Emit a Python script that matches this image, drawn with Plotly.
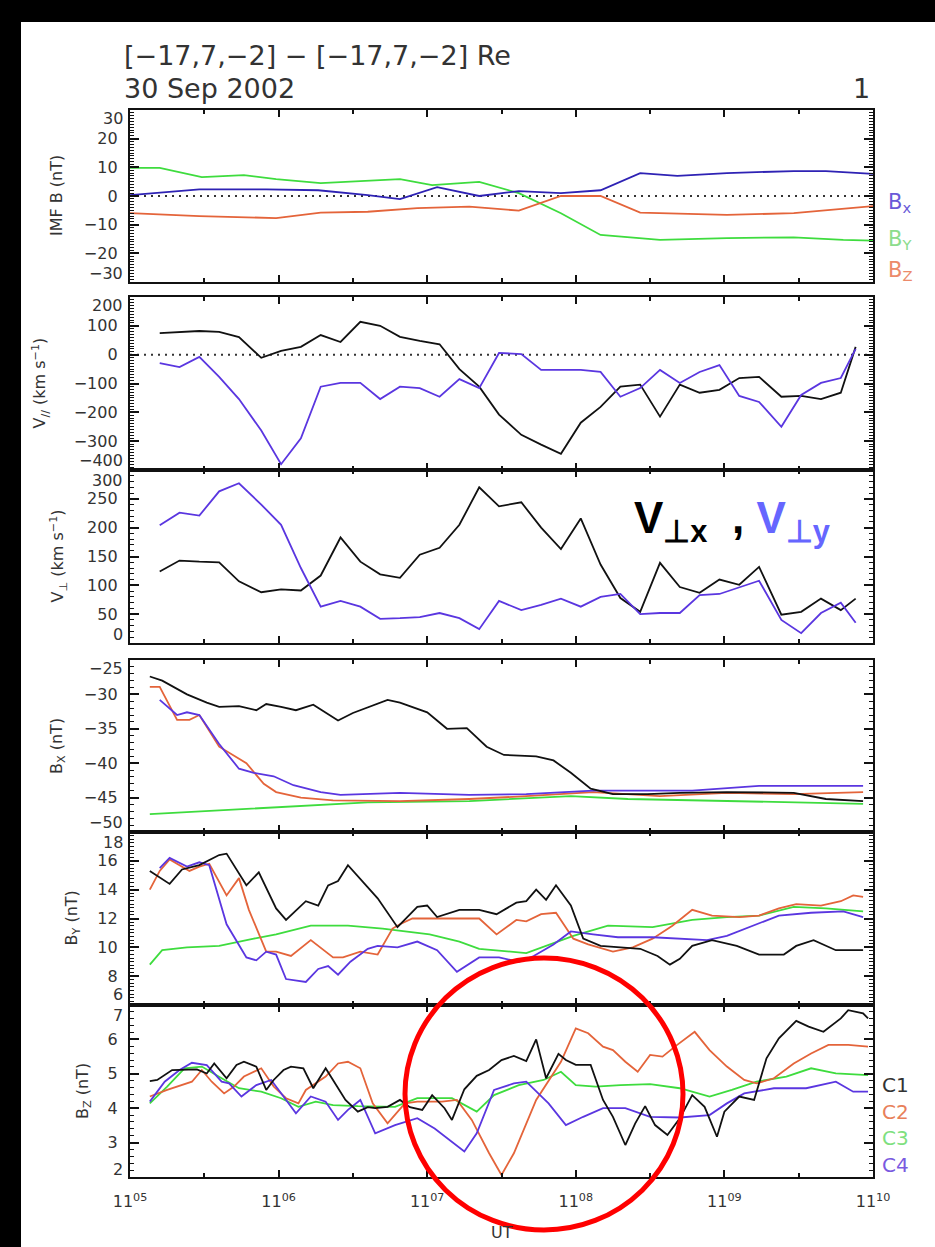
import plotly.graph_objects as go

W, H = 935, 1247

# ---------------- data (time in seconds after 11:05:00 UT) ----------------
# Panel 1: IMF B (nT)
t_imf_bx = [0, 28, 55, 76, 96, 109, 124, 137, 141, 157, 174, 190, 206, 221, 241, 268, 281, 300]
imf_bx = [0.3, 2.3, 2.3, 2.0, 0.3, -1.1, 3.1, 0.8, 0.0, 1.7, 1.0, 2.0, 8.0, 7.0, 8.0, 8.7, 8.7, 7.7]
t_imf_by = [0, 12, 29, 46, 59, 77, 93, 109, 122, 137, 141, 157, 174, 190, 214, 241, 268, 288, 300]
imf_by = [9.8, 9.8, 6.6, 7.3, 5.9, 4.5, 5.2, 5.9, 3.8, 4.5, 4.9, 1.0, -6.0, -13.6, -15.3, -14.7, -14.4, -15.3, -15.6]
t_imf_bz = [0, 28, 59, 77, 96, 116, 137, 157, 174, 190, 206, 241, 268, 300]
imf_bz = [-6.0, -7.0, -7.7, -5.8, -5.5, -4.2, -3.7, -5.1, 0.0, 0.0, -5.8, -6.6, -6.0, -3.5]

# Panels 2-3: ion velocities (km/s), spin resolution
t_cis = [12, 20, 28, 36, 44, 53, 61, 69, 77, 85, 93, 101, 109, 117, 125, 133, 141, 149,
         158, 166, 174, 182, 190, 198, 206, 214, 222, 230, 238, 246, 254, 263, 271, 279, 287, 293]
vpar_a = [75, 79, 82, 79, 61, -11, 13, 27, 68, 44, 114, 100, 62, 48, 36, -50, -111, -208,
          -278, -312, -344, -236, -181, -111, -104, -215, -104, -132, -122, -81, -77, -146, -143, -154, -132, 27]
vpar_b = [-29, -43, -8, -77, -154, -263, -380, -290, -111, -98, -98, -154, -111, -116, -146, -85, -116, 6,
          2, -53, -53, -53, -60, -146, -116, -53, -98, -60, -36, -143, -164, -250, -140, -98, -81, 20]
vperp_x = [124, 143, 141, 140, 107, 88, 93, 91, 117, 183, 141, 119, 113, 153, 165, 205, 270, 237,
           244, 200, 163, 216, 136, 78, 54, 139, 97, 87, 110, 101, 132, 49, 54, 77, 57, 77]
vperp_y = [204, 226, 221, 263, 277, 240, 205, 130, 63, 73, 63, 42, 43, 45, 52, 43, 24, 73,
           57, 66, 77, 63, 80, 85, 50, 52, 52, 83, 85, 97, 108, 40, 17, 52, 70, 35]

# Panel 4: Bx (nT), C1..C4
t_bx_c1 = [8, 13, 23, 31, 36, 44, 51, 55, 61, 67, 74, 84, 90, 104, 109, 120, 128, 133, 136, 144,
           151, 164, 171, 178, 186, 195, 209, 222, 241, 268, 281, 296]
bx_c1 = [-27.4, -28.0, -30.0, -31.2, -31.8, -31.7, -32.3, -31.4, -31.8, -32.3, -31.5, -33.8, -32.7,
         -30.8, -31.2, -32.6, -35.0, -35.0, -34.9, -37.6, -38.8, -39.0, -39.6, -41.4, -43.7, -44.5,
         -44.5, -44.3, -44.2, -44.3, -45.2, -45.5]
t_bx_c2 = [8, 12, 19, 24, 28, 36, 47, 54, 59, 69, 82, 109, 137, 160, 187, 214, 241, 268, 296]
bx_c2 = [-28.9, -28.9, -33.7, -33.7, -33.0, -37.6, -40.0, -43.0, -44.2, -45.0, -45.4, -45.5, -45.2,
         -44.8, -44.2, -44.8, -44.3, -44.5, -44.2]
t_bx_c3 = [8, 55, 96, 137, 178, 201, 241, 296]
bx_c3 = [-47.4, -46.5, -45.7, -45.5, -44.8, -45.2, -45.5, -45.9]
t_bx_c4 = [12, 19, 23, 28, 36, 44, 50, 58, 66, 77, 85, 109, 137, 160, 187, 227, 254, 281, 296]
bx_c4 = [-30.8, -33.0, -32.6, -33.0, -37.2, -40.8, -41.4, -41.9, -43.2, -44.2, -44.6, -44.3, -44.6,
         -44.5, -44.0, -44.0, -43.3, -43.3, -43.3]

# Panel 5: By (nT)
t_by_c1 = [8, 16, 21, 28, 36, 39, 47, 52, 59, 63, 71, 76, 80, 84, 88, 100, 108, 116, 120, 124, 133,
           141, 148, 156, 160, 164, 168, 172, 178, 183, 190, 198, 206, 213, 218, 222, 227, 235, 245,
           254, 264, 269, 276, 285, 296]
by_c1 = [15.3, 14.4, 15.4, 15.7, 16.4, 16.5, 14.3, 15.2, 12.7, 11.9, 13.2, 12.9, 14.3, 14.6, 15.7,
         13.4, 11.4, 12.8, 12.9, 12.1, 12.6, 12.6, 12.3, 13.1, 13.2, 14.0, 13.3, 14.3, 12.9, 10.6,
         10.1, 10.0, 9.9, 9.4, 8.8, 9.2, 10.1, 10.5, 10.1, 9.5, 9.5, 10.1, 10.5, 9.8, 9.8]
t_by_c2 = [8, 12, 16, 20, 24, 28, 32, 39, 44, 48, 55, 59, 65, 73, 82, 86, 93, 100, 106, 109, 114,
           137, 141, 148, 156, 160, 166, 172, 179, 185, 195, 203, 211, 219, 227, 235, 246, 254, 262,
           269, 279, 287, 292, 296]
by_c2 = [14.0, 15.3, 16.1, 15.7, 15.3, 15.6, 15.8, 13.6, 14.8, 12.6, 9.7, 9.7, 9.4, 10.5, 9.3, 9.3,
         9.7, 9.5, 11.3, 11.6, 12.0, 12.0, 12.0, 10.9, 11.9, 11.8, 12.3, 12.4, 10.6, 10.2, 9.7, 10.0,
         10.6, 11.5, 12.6, 12.2, 12.1, 12.2, 12.7, 13.0, 12.9, 13.2, 13.6, 13.5]
t_by_c3 = [8, 13, 23, 36, 50, 59, 73, 88, 102, 121, 133, 141, 160, 179, 193, 211, 227, 241, 254, 268, 281, 296]
by_c3 = [8.8, 9.8, 10.0, 10.1, 10.6, 10.9, 11.5, 11.5, 11.3, 10.9, 10.4, 9.9, 9.6, 10.8, 11.5, 11.4,
         11.9, 12.1, 12.2, 12.8, 12.7, 12.5]
t_by_c4 = [12, 16, 23, 28, 32, 39, 47, 51, 55, 59, 63, 71, 76, 80, 84, 89, 96, 100, 108, 116, 124,
           132, 141, 149, 157, 163, 171, 178, 187, 197, 211, 221, 233, 241, 250, 262, 275, 288, 296]
by_c4 = [15.5, 16.2, 15.6, 15.9, 15.7, 11.6, 9.3, 9.1, 9.7, 9.5, 7.8, 7.6, 8.5, 8.7, 8.1, 9.0, 9.9,
         10.1, 10.0, 10.4, 9.8, 8.3, 9.3, 9.3, 9.0, 9.4, 10.2, 11.1, 10.9, 10.7, 10.7, 10.6, 10.5,
         10.8, 11.4, 12.2, 12.4, 12.5, 12.1]

# Panel 6: Bz (nT)
t_bz_c1 = [8, 11, 17, 27, 31, 34, 39, 43, 46, 51, 55, 58, 62, 65, 70, 74, 79, 81, 87, 92, 96, 99,
           104, 109, 113, 118, 122, 127, 130, 135, 140, 145, 150, 155, 160, 164, 168, 173, 176, 180,
           186, 191, 195, 200, 204, 208, 212, 217, 222, 227, 232, 237, 240, 246, 252, 257, 262, 269,
           274, 280, 287, 290, 296, 298]
bz_c1 = [4.79, 4.82, 5.11, 5.13, 5.01, 5.30, 4.87, 5.26, 5.35, 5.21, 4.53, 4.82, 5.11, 5.21, 5.16,
         4.58, 5.16, 4.92, 4.24, 3.90, 4.03, 4.00, 4.04, 4.24, 4.03, 3.95, 4.38, 4.00, 3.66, 4.55,
         4.94, 5.11, 5.40, 5.52, 5.37, 6.00, 4.87, 5.58, 5.40, 5.26, 5.26, 4.24, 3.75, 2.93, 3.56,
         4.06, 3.51, 3.22, 3.71, 4.38, 4.04, 3.17, 3.90, 4.34, 4.24, 5.45, 6.03, 6.54, 6.37, 6.22,
         6.61, 6.85, 6.76, 6.61]
t_bz_c2 = [8, 15, 25, 29, 33, 38, 42, 46, 53, 58, 63, 68, 71, 79, 84, 88, 93, 98, 104, 111, 116,
           126, 132, 138, 145, 150, 155, 164, 174, 180, 185, 191, 195, 200, 205, 210, 215, 220, 228,
           234, 241, 248, 253, 260, 268, 275, 282, 290, 298]
bz_c2 = [4.34, 4.53, 4.77, 5.11, 4.77, 4.43, 4.63, 4.92, 5.16, 4.63, 4.29, 4.14, 4.53, 4.92, 5.30,
         5.35, 5.16, 4.14, 3.56, 4.14, 4.19, 4.19, 4.24, 3.66, 2.69, 2.06, 2.69, 4.24, 5.35, 6.32,
         6.18, 5.79, 5.69, 5.35, 5.06, 5.55, 5.50, 5.79, 6.22, 5.69, 5.21, 4.82, 4.72, 4.87, 5.30,
         5.59, 5.84, 5.84, 5.79]
t_bz_c3 = [8, 15, 22, 29, 37, 44, 53, 61, 68, 75, 82, 92, 107, 116, 130, 140, 147, 157, 167, 174,
           180, 188, 198, 210, 222, 234, 243, 253, 265, 275, 285, 298]
bz_c3 = [4.14, 4.63, 5.16, 5.21, 4.87, 4.58, 4.48, 4.29, 4.04, 4.19, 4.09, 4.06, 4.04, 4.29, 4.29,
         3.90, 4.38, 4.67, 4.82, 5.06, 4.67, 4.63, 4.67, 4.70, 4.58, 4.34, 4.53, 4.77, 4.92, 5.16,
         5.01, 4.96]
t_bz_c4 = [8, 14, 20, 25, 31, 37, 40, 45, 51, 57, 62, 67, 73, 79, 84, 88, 93, 99, 107, 116, 123,
           135, 140, 147, 155, 160, 169, 176, 183, 191, 200, 210, 222, 234, 241, 248, 260, 273, 285,
           292, 298]
bz_c4 = [4.19, 4.77, 5.11, 5.32, 5.25, 4.77, 4.72, 4.34, 4.67, 4.82, 4.34, 3.85, 4.34, 4.19, 3.66,
         3.95, 4.24, 3.27, 3.51, 3.71, 3.41, 2.74, 3.27, 4.53, 4.72, 4.77, 4.14, 3.51, 3.75, 4.00,
         4.00, 3.75, 3.73, 3.80, 4.14, 4.43, 4.58, 4.58, 4.77, 4.48, 4.48]

# x axis: 11:05 .. 11:10 UT
x_tickvals = [0, 60, 120, 180, 240, 300]
x_ticktext = ["11<sup>05</sup>", "11<sup>06</sup>", "11<sup>07</sup>",
              "11<sup>08</sup>", "11<sup>09</sup>", "11<sup>10</sup>"]
x_minor = [30, 90, 150, 210, 270]

# y ticks per panel
yt_imf = [-30, -20, -10, 0, 10, 20, 30]
yt_vpar = [-400, -300, -200, -100, 0, 100, 200]
yt_vperp = [0, 50, 100, 150, 200, 250, 300]
yt_bx = [-50, -45, -40, -35, -30, -25]
yt_by = [6, 8, 10, 12, 14, 16, 18]
yt_bz = [2, 3, 4, 5, 6, 7]

# ---------------- styling ----------------
BLACK = "#111111"
PURPLE = "#5a36e0"
NAVY = "#2e22b4"
GREEN = "#3edc3e"
ORANGE = "#e4643a"
TEXT = "#333333"
FONT = "DejaVu Sans"
TICKSIZE = 16
LW = 1.8

X0, X1 = 130, 873
panels = [(110, 282), (297, 470), (470, 643), (660, 832), (832, 1005), (1005, 1177)]
yticks = [yt_imf, yt_vpar, yt_vperp, yt_bx, yt_by, yt_bz]
yminor = [1, 10, 10, 1, 0.25, 0.2]

fig = go.Figure()


def add(i, t, v, color):
    sfx = "" if i == 1 else str(i)
    fig.add_trace(go.Scatter(x=t, y=v, mode="lines", line=dict(color=color, width=LW),
                             xaxis="x" + sfx, yaxis="y" + sfx, showlegend=False,
                             hoverinfo="skip"))


add(1, t_imf_by, imf_by, GREEN)
add(1, t_imf_bz, imf_bz, ORANGE)
add(1, t_imf_bx, imf_bx, NAVY)
add(2, t_cis, vpar_a, BLACK)
add(2, t_cis, vpar_b, PURPLE)
add(3, t_cis, vperp_x, BLACK)
add(3, t_cis, vperp_y, PURPLE)
add(4, t_bx_c3, bx_c3, GREEN)
add(4, t_bx_c2, bx_c2, ORANGE)
add(4, t_bx_c4, bx_c4, PURPLE)
add(4, t_bx_c1, bx_c1, BLACK)
add(5, t_by_c3, by_c3, GREEN)
add(5, t_by_c2, by_c2, ORANGE)
add(5, t_by_c4, by_c4, PURPLE)
add(5, t_by_c1, by_c1, BLACK)
add(6, t_bz_c3, bz_c3, GREEN)
add(6, t_bz_c2, bz_c2, ORANGE)
add(6, t_bz_c4, bz_c4, PURPLE)
add(6, t_bz_c1, bz_c1, BLACK)


def fmt(v):
    return f"{v:g}".replace("-", "\u2212")


layout = dict(
    width=W, height=H, autosize=False,
    margin=dict(l=0, r=0, t=0, b=0, pad=0, autoexpand=False),
    paper_bgcolor="white", plot_bgcolor="white",
    showlegend=False,
    font=dict(family=FONT, size=16, color=TEXT),
)

tickfont = dict(family=FONT, size=TICKSIZE, color=TEXT)
for i, ((top, bot), yt, ym) in enumerate(zip(panels, yticks, yminor), start=1):
    sfx = "" if i == 1 else str(i)
    layout["xaxis" + sfx] = dict(
        domain=[X0 / W, X1 / W], anchor="y" + sfx, range=[0, 300],
        tickmode="array", tickvals=x_tickvals, ticktext=x_ticktext,
        showticklabels=(i == 6), ticks="inside", ticklen=7, tickwidth=1.5, tickcolor=BLACK,
        minor=dict(tickmode="array", tickvals=x_minor, ticks="inside",
                   ticklen=4, tickwidth=1.5, tickcolor=BLACK),
        showline=True, linewidth=2.4, linecolor=BLACK, mirror="ticks",
        showgrid=False, zeroline=False, tickfont=tickfont, ticklabelstandoff=9,
    )
    # the two end labels sit slightly inset from the frame corners and are drawn separately
    inner = yt[1:-1]
    layout["yaxis" + sfx] = dict(
        domain=[1 - bot / H, 1 - top / H], anchor="x" + sfx, range=[yt[0], yt[-1]],
        tickmode="array", tickvals=inner, ticktext=[fmt(v) for v in inner],
        ticks="inside", ticklen=9, tickwidth=1.5, tickcolor=BLACK,
        minor=dict(tickmode="linear", tick0=yt[0], dtick=ym, ticks="inside", ticklen=4,
                   tickwidth=1, tickcolor=BLACK),
        showline=True, linewidth=2.4, linecolor=BLACK, mirror="ticks",
        showgrid=False, zeroline=False, tickfont=tickfont, ticklabelstandoff=7,
    )

fig.update_layout(**layout)

# dotted zero lines
for ref in ["", "2"]:
    fig.add_shape(type="line", xref="x" + ref, yref="y" + ref, x0=0, x1=300, y0=0, y1=0,
                  line=dict(color=TEXT, width=2, dash="2px,5px"), layer="below")

# black frame bands
fig.add_shape(type="rect", xref="paper", yref="paper", x0=0, x1=1, y0=1 - 22 / H, y1=1,
              fillcolor="black", line=dict(width=0), layer="above")
fig.add_shape(type="rect", xref="paper", yref="paper", x0=0, x1=21 / W, y0=0, y1=1,
              fillcolor="black", line=dict(width=0), layer="above")

# highlight circle
fig.add_shape(type="circle", xref="paper", yref="paper",
              x0=405 / W, x1=683 / W, y0=1 - 1230 / H, y1=1 - 958 / H,
              line=dict(color="#ff0000", width=5), fillcolor="rgba(0,0,0,0)", layer="above")


def ann(text, x, y, size=16, color=TEXT, angle=0, xanchor="center", yanchor="middle", family=FONT):
    fig.add_annotation(text=text, x=x / W, y=1 - y / H, xref="paper", yref="paper",
                       showarrow=False, textangle=angle, xanchor=xanchor, yanchor=yanchor,
                       borderpad=0, borderwidth=0,
                       font=dict(family=family, size=size, color=color))


# end-of-axis tick labels; where two panels share a frame edge they are pushed a little further in
shared = {470, 832, 1005}
for (top, bot), yt in zip(panels, yticks):
    ann(fmt(yt[-1]), 123, top + (10 if top in shared else 8), size=TICKSIZE, xanchor="right")
    ann(fmt(yt[0]), 123, bot - (10 if bot in shared else 8), size=TICKSIZE, xanchor="right")

# header
ann("[\u221217,7,\u22122] \u2212 [\u221217,7,\u22122] Re", 124, 55, size=27, xanchor="left")
ann("30 Sep 2002", 124, 88, size=27, xanchor="left")
ann("1", 870, 88, size=27, xanchor="right")

# axis titles
ytitles = [
    ("IMF B (nT)", 57),
    ("V<sub>//</sub> (km s<sup>\u22121</sup>)", 40),
    ("V<sub>\u22a5</sub> (km s<sup>\u22121</sup>)", 58),
    ("B<sub>X</sub> (nT)", 57),
    ("B<sub>Y</sub> (nT)", 72),
    ("B<sub>Z</sub> (nT)", 83),
]
for (txt, xc), (top, bot) in zip(ytitles, panels):
    ann(txt, xc, (top + bot) / 2, size=16, angle=-90)
ann("UT", (X0 + X1) / 2, 1232, size=16)

# IMF component labels
ann("B<sub>x</sub>", 888, 203, size=21, color="#6a5ad8", xanchor="left")
ann("B<sub>Y</sub>", 888, 240, size=21, color="#8cdc8c", xanchor="left")
ann("B<sub>Z</sub>", 888, 271, size=21, color="#ec8a6a", xanchor="left")

# spacecraft labels
ann("C1", 882, 1085, size=20, color="#333333", xanchor="left")
ann("C2", 882, 1112, size=20, color="#e8805a", xanchor="left")
ann("C3", 882, 1138, size=20, color="#7ee07e", xanchor="left")
ann("C4", 882, 1165, size=20, color="#7a5ae0", xanchor="left")

# perpendicular velocity component label
ann("<b>V<sub>\u22a5x</sub>\u00a0\u00a0,\u00a0<span style='color:#6666ff'>V<sub>\u22a5y</sub></span></b>",
    634, 521, size=44, color="#000000", xanchor="left", family="Liberation Sans")

fig.write_html("out.html")
